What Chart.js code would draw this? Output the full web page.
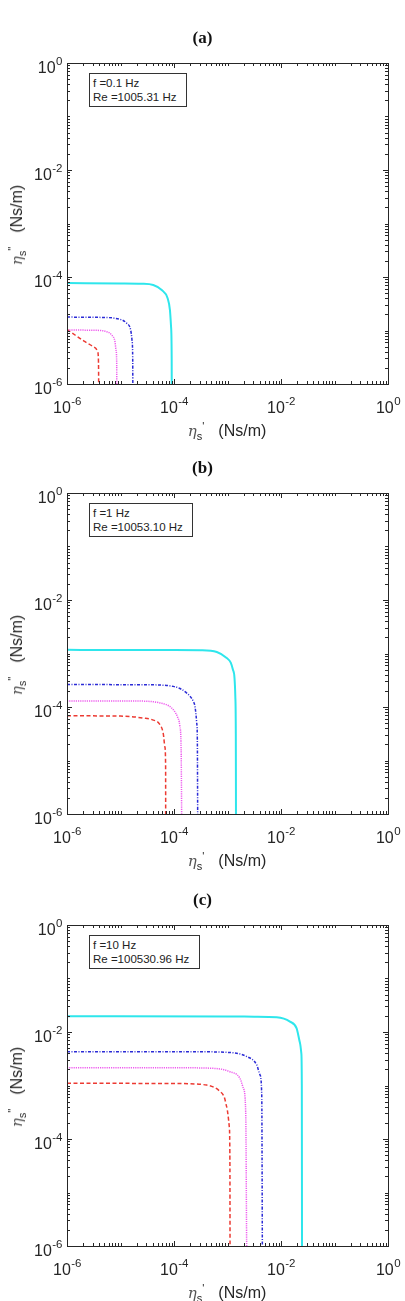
<!DOCTYPE html>
<html>
<head>
<meta charset="utf-8">
<script src="https://cdn.jsdelivr.net/npm/chart.js@4/dist/chart.umd.min.js"></script>
<style>
  body { margin: 0; background: #fff; width: 405px; height: 1301px; position: relative; overflow: hidden;
         font-family: "Liberation Sans", Arial, sans-serif; color: #262626; }
  .panel { position: absolute; left: 0; width: 405px; height: 430px; }
  .panel canvas { position: absolute; left: 0; top: 0; }
  .ttl { position: absolute; left: 0; width: 405px; top: 28px; text-align: center;
         font: bold 17px "Liberation Serif", serif; color: #111; }
  .info { position: absolute; left: 89px; top: 73px; height: 34px; box-sizing: border-box;
          border: 1px solid #333; background: #fff; font-size: 11.5px; line-height: 14px;
          padding: 2px 3px 0 3px; white-space: nowrap; color: #222; }
  .axl { position: absolute; white-space: nowrap; font-size: 16px; line-height: 16px; color: #262626; }
  .axl .eta { font-family: "DejaVu Serif", serif; font-style: italic; font-size: 15px; color: #555; }
  .axl sub, .axl sup { font-size: 11px; line-height: 0; }
  .axl .unit { margin-left: 14px; }
  .xl { left: 227px; top: 431px; transform: translate(-50%, -50%); }
  .yl { left: 17px; top: 225px; transform: translate(-50%, -50%) rotate(-90deg); }
</style>
</head>
<body>
<script>
// panel texts
const TITLES = ["(a)", "(b)", "(c)"];
const FREQ_TEXT = ["f =0.1 Hz", "f =1 Hz", "f =10 Hz"];
const RE_TEXT = ["Re =1005.31 Hz", "Re =10053.10 Hz", "Re =100530.96 Hz"];
const INFO_WIDTH = [98, 104, 111];

// tick values (log axes, labelled every two decades)
const MAJOR_TICKS = [1e-6, 1e-4, 1e-2, 1];
const MAJOR_EXP = ["-6", "-4", "-2", "0"];

// (a) f = 0.1 Hz
const A_CYAN_X = [1e-6, 1e-5, 2.5e-5, 4.1e-5, 5.9e-5, 7.6e-5, 8.4e-5, 8.8e-5, 9.05e-5, 9.07e-5];
const A_CYAN_Y = [7.7e-5, 7.6e-5, 7.5e-5, 7.1e-5, 5.7e-5, 4.0e-5, 2.4e-5, 1.2e-5, 3e-6, 1e-6];
const A_BLUE_X = [1e-6, 3.98e-6, 9.77e-6, 1.31e-5, 1.55e-5, 1.64e-5, 1.69e-5, 1.70e-5];
const A_BLUE_Y = [1.78e-5, 1.76e-5, 1.62e-5, 1.36e-5, 1.02e-5, 6.64e-6, 3.16e-6, 1e-6];
const A_MAG_X = [1e-6, 3.16e-6, 5.52e-6, 6.84e-6, 7.89e-6, 8.24e-6, 8.49e-6, 8.52e-6];
const A_MAG_Y = [1.02e-5, 1.01e-5, 9.5e-6, 8.24e-6, 6.17e-6, 4.33e-6, 2.51e-6, 1e-6];
const A_RED_X = [1e-6, 1.41e-6, 2.17e-6, 3.09e-6, 3.74e-6, 3.85e-6, 3.89e-6, 3.91e-6];
const A_RED_Y = [1.05e-5, 8.24e-6, 6.17e-6, 5.01e-6, 4.02e-6, 3.24e-6, 2.0e-6, 1e-6];

// (b) f = 1 Hz
const B_CYAN_X = [1e-6, 1e-4, 3.16e-4, 6.31e-4, 9.66e-4, 1.15e-3, 1.26e-3, 1.35e-3, 1.40e-3, 1.43e-3, 1.44e-3];
const B_CYAN_Y = [1.17e-3, 1.16e-3, 1.15e-3, 1.07e-3, 8.24e-4, 6.76e-4, 5.01e-4, 3.55e-4, 1.58e-4, 3.16e-5, 1e-6];
const B_BLUE_X = [1e-6, 3.16e-5, 9.7e-5, 1.73e-4, 2.30e-4, 2.47e-4, 2.66e-4, 2.73e-4, 2.77e-4];
const B_BLUE_Y = [2.63e-4, 2.60e-4, 2.43e-4, 1.82e-4, 1.27e-4, 1.02e-4, 5.01e-5, 2.45e-5, 1e-6];
const B_MAG_X = [1e-6, 2.0e-5, 5.47e-5, 9.06e-5, 1.15e-4, 1.29e-4, 1.36e-4, 1.39e-4];
const B_MAG_Y = [1.29e-4, 1.29e-4, 1.19e-4, 9.55e-5, 6.67e-5, 4.34e-5, 1.58e-5, 1e-6];
const B_RED_X = [1e-6, 1e-5, 2.67e-5, 3.98e-5, 5.37e-5, 6.31e-5, 6.76e-5, 6.97e-5, 6.99e-5];
const B_RED_Y = [6.84e-5, 6.76e-5, 6.22e-5, 5.75e-5, 4.79e-5, 3.16e-5, 1.78e-5, 7.94e-6, 1e-6];

// (c) f = 10 Hz
const C_CYAN_X = [1e-6, 1e-3, 3.16e-3, 8.3e-3, 1.47e-2, 1.96e-2, 2.26e-2, 2.40e-2, 2.45e-2, 2.47e-2];
const C_CYAN_Y = [1.97e-2, 1.95e-2, 1.93e-2, 1.88e-2, 1.56e-2, 1.17e-2, 6.3e-3, 3.98e-3, 1e-3, 1e-6];
const C_BLUE_X = [1e-6, 2.51e-4, 9.66e-4, 2.29e-3, 3.52e-3, 4.05e-3, 4.37e-3, 4.48e-3];
const C_BLUE_Y = [4.29e-3, 4.27e-3, 4.17e-3, 3.47e-3, 2.42e-3, 1.58e-3, 6.3e-4, 1e-6];
const C_MAG_X = [1e-6, 1.58e-4, 5.51e-4, 1.11e-3, 1.71e-3, 1.98e-3, 2.19e-3, 2.28e-3];
const C_MAG_Y = [2.15e-3, 2.14e-3, 2.09e-3, 1.81e-3, 1.36e-3, 8.87e-4, 3.16e-4, 1e-6];
const C_RED_X = [1e-6, 1e-4, 4.08e-4, 7.24e-4, 8.71e-4, 9.64e-4, 1.08e-3, 1.11e-3, 1.115e-3];
const C_RED_Y = [1.10e-3, 1.09e-3, 1.02e-3, 7.76e-4, 6.03e-4, 4.02e-4, 1.70e-4, 3.16e-5, 1e-6];

const PANEL_SERIES = [
  [[A_CYAN_X, A_CYAN_Y], [A_BLUE_X, A_BLUE_Y], [A_MAG_X, A_MAG_Y], [A_RED_X, A_RED_Y]],
  [[B_CYAN_X, B_CYAN_Y], [B_BLUE_X, B_BLUE_Y], [B_MAG_X, B_MAG_Y], [B_RED_X, B_RED_Y]],
  [[C_CYAN_X, C_CYAN_Y], [C_BLUE_X, C_BLUE_Y], [C_MAG_X, C_MAG_Y], [C_RED_X, C_RED_Y]],
];

const LINE_STYLES = [
  { color: "#2ee6ec", width: 2, dash: [] },
  { color: "#2b2bd6", width: 1.5, dash: [3, 1.5, 1, 1.5] },
  { color: "#ee5cee", width: 1.5, dash: [1.2, 1] },
  { color: "#ec3a32", width: 1.5, dash: [4, 2.5] },
];

const PANEL_TOP = [0, 430, 862];
const AXIS_COLOR = "#262626";

function drawExpLabel(ctx, exp, x, baseY, align) {
  ctx.font = '16px "Liberation Sans", Arial, sans-serif';
  const w1 = ctx.measureText("10").width;
  ctx.font = '11.5px "Liberation Sans", Arial, sans-serif';
  const w2 = ctx.measureText(exp).width;
  const start = align === "center" ? x - (w1 + w2) / 2 : x - (w1 + w2);
  ctx.textAlign = "left";
  ctx.textBaseline = "alphabetic";
  ctx.font = '16px "Liberation Sans", Arial, sans-serif';
  ctx.fillText("10", start, baseY);
  ctx.font = '11.5px "Liberation Sans", Arial, sans-serif';
  ctx.fillText(exp, start + w1 + 0.5, baseY - 8);
}

const matlabAxes = {
  id: "matlabAxes",
  afterDatasetsDraw(chart) {
    const { ctx, chartArea: a } = chart;
    const xs = chart.scales.x;
    const ys = chart.scales.y;
    ctx.save();
    ctx.strokeStyle = AXIS_COLOR;
    ctx.fillStyle = AXIS_COLOR;
    ctx.lineWidth = 1;

    // minor ticks: every decade and 2..9 within it
    const minor = [];
    for (let e = -6; e < 0; e++) {
      for (let k = 1; k <= 9; k++) minor.push(k * Math.pow(10, e));
    }
    ctx.beginPath();
    minor.forEach((v) => {
      const px = Math.round(xs.getPixelForValue(v)) + 0.5;
      const py = Math.round(ys.getPixelForValue(v)) + 0.5;
      ctx.moveTo(px, a.bottom); ctx.lineTo(px, a.bottom - 3);
      ctx.moveTo(px, a.top); ctx.lineTo(px, a.top + 3);
      ctx.moveTo(a.left, py); ctx.lineTo(a.left + 3, py);
      ctx.moveTo(a.right, py); ctx.lineTo(a.right - 3, py);
    });
    MAJOR_TICKS.forEach((v) => {
      const px = Math.round(xs.getPixelForValue(v)) + 0.5;
      const py = Math.round(ys.getPixelForValue(v)) + 0.5;
      ctx.moveTo(px, a.bottom); ctx.lineTo(px, a.bottom - 5);
      ctx.moveTo(px, a.top); ctx.lineTo(px, a.top + 5);
      ctx.moveTo(a.left, py); ctx.lineTo(a.left + 5, py);
      ctx.moveTo(a.right, py); ctx.lineTo(a.right - 5, py);
    });
    ctx.stroke();

    // box
    ctx.strokeRect(Math.round(a.left) + 0.5, Math.round(a.top) + 0.5,
      Math.round(a.right - a.left), Math.round(a.bottom - a.top));

    // tick labels
    MAJOR_TICKS.forEach((v, i) => {
      drawExpLabel(ctx, MAJOR_EXP[i], xs.getPixelForValue(v), a.bottom + 29, "center");
      drawExpLabel(ctx, MAJOR_EXP[i], 62, ys.getPixelForValue(v) + 10, "right");
    });
    ctx.restore();
  },
};

PANEL_TOP.forEach((top, p) => {
  const div = document.createElement("div");
  div.className = "panel";
  div.style.top = top + "px";
  div.innerHTML =
    '<canvas width="405" height="430"></canvas>' +
    '<div class="ttl">' + TITLES[p] + "</div>" +
    '<div class="info" style="width:' + INFO_WIDTH[p] + 'px">' + FREQ_TEXT[p] + "<br>" + RE_TEXT[p] + "</div>" +
    '<div class="axl xl"><span class="eta">η</span><sub>s</sub><sup>\'</sup><span class="unit">(Ns/m)</span></div>' +
    '<div class="axl yl"><span class="eta">η</span><sub>s</sub><sup>"</sup><span class="unit">(Ns/m)</span></div>';
  document.body.appendChild(div);

  const datasets = PANEL_SERIES[p].map(([xv, yv], i) => ({
    data: xv.map((x, j) => ({ x: x, y: yv[j] })),
    borderColor: LINE_STYLES[i].color,
    borderWidth: LINE_STYLES[i].width,
    borderDash: LINE_STYLES[i].dash,
    pointRadius: 0,
    cubicInterpolationMode: "monotone",
    fill: false,
  }));

  new Chart(div.querySelector("canvas"), {
    type: "line",
    data: { datasets: datasets },
    options: {
      responsive: false,
      animation: false,
      devicePixelRatio: 1,
      layout: { padding: { left: 67, right: 17, top: 63, bottom: 46 } },
      plugins: { legend: { display: false }, tooltip: { enabled: false } },
      scales: {
        x: { type: "logarithmic", min: 1e-6, max: 1, display: false },
        y: { type: "logarithmic", min: 1e-6, max: 1, display: false },
      },
    },
    plugins: [matlabAxes],
  });
});
</script>
</body>
</html>
